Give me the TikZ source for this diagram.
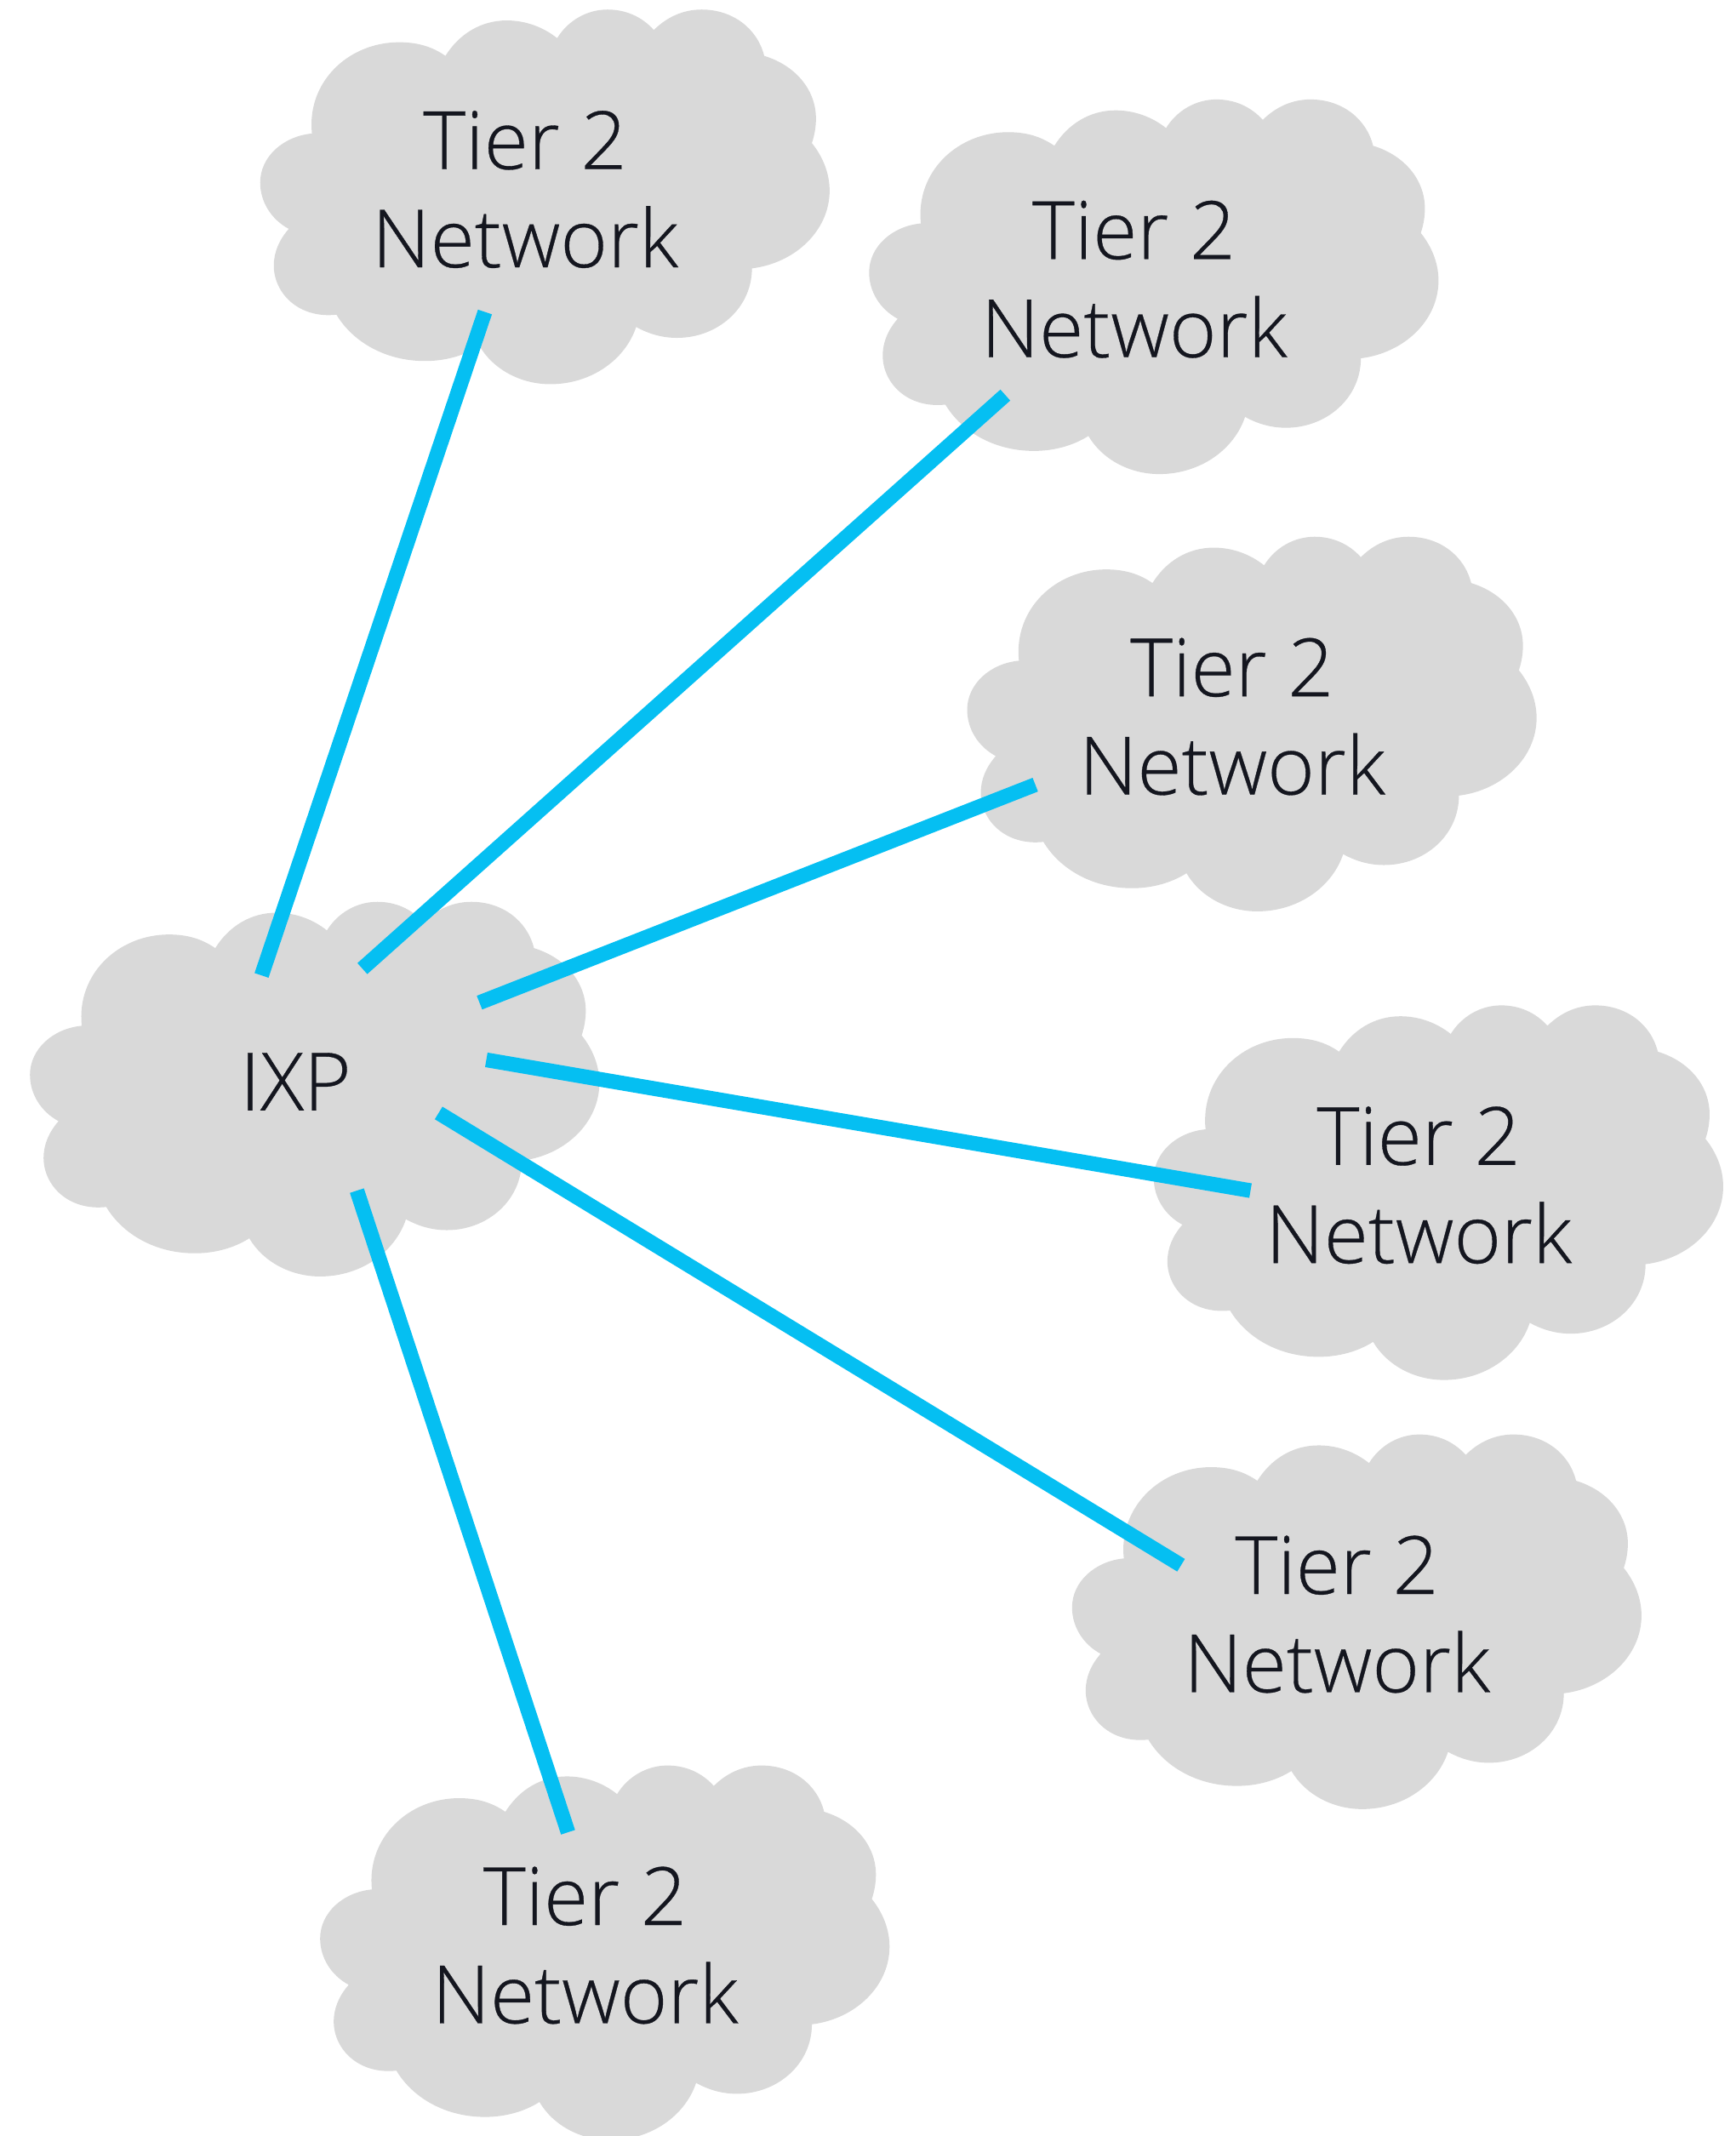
\documentclass[tikz,border=0pt]{standalone}
\usepackage{fontspec}
\setmainfont[FakeBold=0.35,FakeStretch=1.005]{Open Sans Light}
\definecolor{cloudgray}{HTML}{D9D9D9}
\definecolor{linkblue}{HTML}{05BFF2}
\definecolor{inktext}{HTML}{14161F}
\tikzset{
  tiernet/.style={align=center, inner sep=0pt, text=inktext, font=\fontsize{16.8}{20.5}\selectfont},
  link/.style={draw=linkblue, line width=0.108cm},
  cloudshape/.pic={
    \fill[cloudgray, shift={(-385,-140)}] (229,98)
      .. controls (225,60) and (256,31) .. (293,31) .. controls (306,31) and (317,34) .. (327,41)
      .. controls (337,25) and (353,15) .. (372,15) .. controls (386,15) and (399,20) .. (409,28)
      .. controls (417,15) and (431,7) .. (446,7) .. controls (459,7) and (471,12) .. (480,22)
      .. controls (489,13) and (501,7) .. (515,7) .. controls (538,7) and (556,21) .. (561,41)
      .. controls (584,48) and (599,66) .. (599,87) .. controls (599,93) and (598,99) .. (596,105)
      .. controls (604,115) and (609,127) .. (609,140) .. controls (609,169) and (584,193) .. (552,197)
      .. controls (552,226) and (527,248) .. (497,248) .. controls (486,248) and (476,245) .. (467,240)
      .. controls (459,264) and (434,282) .. (404,282) .. controls (382,282) and (362,271) .. (352,254)
      .. controls (341,261) and (327,265) .. (312,265) .. controls (283,265) and (259,251) .. (247,231)
      .. controls (219,234) and (201,215) .. (201,195) .. controls (201,185) and (205,176) .. (212,168)
      .. controls (199,161) and (191,148) .. (191,134) .. controls (191,115) and (208,100) .. (229,98)
      -- cycle;
  }
}
\begin{document}
\begin{tikzpicture}[x=0.01cm, y=-0.01cm]
  \useasboundingbox (0,0) rectangle (1274,1568);

  % Clouds

  \pic at (385,140) {cloudshape};
  \pic at (832,206) {cloudshape};
  \pic at (904,527) {cloudshape};
  \pic at (1041,871) {cloudshape};
  \pic at (981,1186) {cloudshape};
  \pic at (429,1429) {cloudshape};
  \pic at (216,795) {cloudshape};

  % Nodes

  \node[tiernet] (t1) at (385.5,139) {Tier 2\\Network};
  \node[tiernet] (t2) at (832.5,205) {Tier 2\\Network};
  \node[tiernet] (t3) at (904.5,526) {Tier 2\\Network};
  \node[tiernet] (t4) at (1041.5,870) {Tier 2\\Network};
  \node[tiernet] (t5) at (981.5,1185) {Tier 2\\Network};
  \node[tiernet] (t6) at (429.5,1428) {Tier 2\\Network};
  \node[tiernet] (ixp) at (217,794) {IXP};

  % Line ends

  \coordinate (t1end) at (356,229);
  \coordinate (t2end) at (738,290);
  \coordinate (t3end) at (760,576);
  \coordinate (t4end) at (918,874);
  \coordinate (t5end) at (867,1149);
  \coordinate (t6end) at (417,1345);
  \coordinate (ixp1) at (192,716);
  \coordinate (ixp2) at (266,711);
  \coordinate (ixp3) at (352,736);
  \coordinate (ixp4) at (357,778);
  \coordinate (ixp5) at (322,817);
  \coordinate (ixp6) at (262,874);

  % Edges

  \draw[link] (ixp1) -- (t1end);
  \draw[link] (ixp2) -- (t2end);
  \draw[link] (ixp3) -- (t3end);
  \draw[link] (ixp4) -- (t4end);
  \draw[link] (ixp5) -- (t5end);
  \draw[link] (ixp6) -- (t6end);

\end{tikzpicture}
\end{document}
